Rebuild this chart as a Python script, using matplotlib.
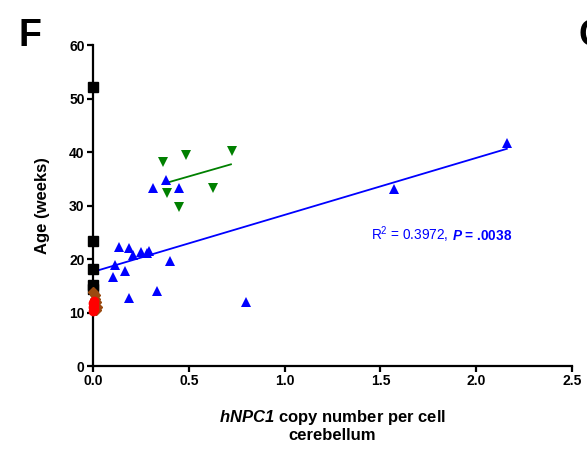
import numpy as np
import matplotlib
matplotlib.use("Agg")
import matplotlib.pyplot as plt

plt.rcParams['font.family'] = ['Liberation Sans', 'DejaVu Sans']
plt.rcParams['mathtext.fontset'] = 'custom'
plt.rcParams['mathtext.rm'] = 'Liberation Sans'
plt.rcParams['mathtext.it'] = 'Liberation Sans:italic'
plt.rcParams['mathtext.bf'] = 'Liberation Sans:bold'
plt.rcParams['mathtext.bfit'] = 'Liberation Sans:bold:italic'

# copy number vs age, one group per symbol
black_x = [0, 0, 0, 0, 0]
black_y = [52.1, 23.4, 18.1, 15.1, 14.4]

brown_x = [0.0, 0.01, 0.015, 0.02, 0.015, 0.01]
brown_y = [13.8, 13.3, 12.0, 11.0, 10.5, 12.6]

red_x = [0.0, 0.005, 0.0, 0.005, 0.0, 0.003]
red_y = [10.2, 10.6, 11.0, 11.4, 11.8, 12.2]

blue_x = [0.136, 0.188, 0.209, 0.25, 0.28, 0.29, 0.115, 0.167, 0.104, 0.188,
          0.334, 0.40, 0.80, 0.313, 0.38, 0.449, 1.57, 2.16]
blue_y = [22.2, 22.0, 20.7, 21.3, 21.1, 21.5, 18.9, 17.8, 16.6, 12.7,
          14.0, 19.6, 12.0, 33.3, 34.8, 33.3, 33.1, 41.7]

green_x = [0.365, 0.485, 0.725, 0.386, 0.626, 0.449]
green_y = [38.1, 39.4, 40.2, 32.3, 33.3, 29.7]

# linear fit for the blue group (reported stats)
blue_fit = (10.65, 17.6)   # slope, intercept
blue_fit_range = (0.0, 2.16)
green_fit_range = (0.39, 0.72)
r2_text = "0.3972"
p_text = ".0038"

fig = plt.figure(figsize=(5.87, 4.54), dpi=100)
ax = fig.add_axes([0.1584, 0.1938, 0.816, 0.707])

ms = 7
ax.plot(black_x, black_y, 's', color='black', ms=6.5, clip_on=False, zorder=4)
ax.plot(brown_x, brown_y, 'D', color='#9a4a10', ms=5, clip_on=False, zorder=5)
ax.plot(red_x, red_y, 'o', color='red', ms=6, clip_on=False, zorder=6)
ax.plot(blue_x, blue_y, '^', color='blue', ms=ms, clip_on=False, zorder=4, markeredgewidth=0)
ax.plot(green_x, green_y, 'v', color='green', ms=ms, clip_on=False, zorder=4, markeredgewidth=0)

bx = np.array(blue_fit_range)
ax.plot(bx, blue_fit[0] * bx + blue_fit[1], color='blue', lw=1.3, zorder=3)

gs, gi = np.polyfit(green_x, green_y, 1)
gx = np.array(green_fit_range)
ax.plot(gx, gs * gx + gi, color='green', lw=1.3, zorder=3)

stat_y = 23.6
t1 = ax.text(1.45, stat_y, r"R$^2$ = " + r2_text + ",",
             color='blue', fontsize=9.8, va='baseline')
ax.annotate(r"$\mathbfit{P}$ = " + p_text, xy=(1, stat_y), xycoords=(t1, 'data'),
            xytext=(3, 0), textcoords='offset points',
            va='baseline', ha='left', color='blue', fontsize=9.8, fontweight='bold')

ax.set_xlim(0, 2.5)
ax.set_ylim(0, 60)
ax.set_xticks([0, 0.5, 1.0, 1.5, 2.0, 2.5])
ax.set_xticklabels(['0.0', '0.5', '1.0', '1.5', '2.0', '2.5'])
ax.set_yticks([0, 10, 20, 30, 40, 50, 60])
for s in ['top', 'right']:
    ax.spines[s].set_visible(False)
for s in ['left', 'bottom']:
    ax.spines[s].set_linewidth(1.6)
ax.tick_params(width=1.6, length=4, labelsize=10, pad=2)
for lab in ax.get_xticklabels() + ax.get_yticklabels():
    lab.set_fontweight('bold')

ax.set_ylabel('Age (weeks)', fontsize=12, fontweight='bold', labelpad=14)
ax.set_xlabel(r"$\mathbfit{hNPC1}$ copy number per cell" + "\ncerebellum",
              fontsize=12, fontweight='bold', labelpad=14, linespacing=1.1)

fig.text(0.032, 0.92, 'F', fontsize=27, fontweight='bold', va='center', ha='left')
fig.text(0.985, 0.92, 'G', fontsize=27, fontweight='bold', va='center', ha='left')

fig.savefig('out.png', dpi=100)
